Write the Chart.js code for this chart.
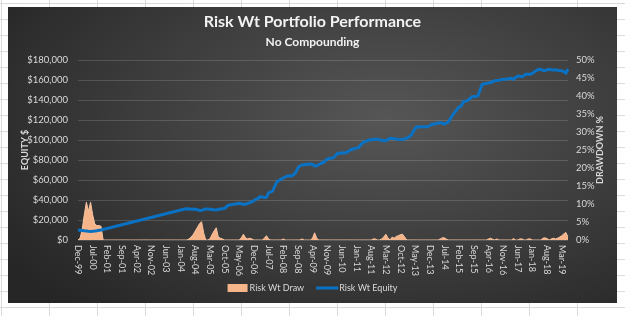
<!DOCTYPE html>
<html>
<head>
<meta charset="utf-8">
<script src="https://cdn.jsdelivr.net/npm/chart.js@4"></script>
<style>
  body {
    margin: 0;
    width: 625px;
    height: 316px;
    overflow: hidden;
    background-color: #fff;
    background-image: linear-gradient(to right, #dadada 1px, transparent 1px),
                      linear-gradient(to bottom, #dadada 1px, transparent 1px);
    background-size: 48px 16px;
    background-position: 1px 3px;
  }
  #box {
    position: absolute;
    left: 8px;
    top: 7px;
    width: 609px;
    height: 296px;
    background: radial-gradient(ellipse 75% 85% at 62% 38%, #565656 0%, #3c3c3c 55%, #262626 100%);
  }
</style>
</head>
<body>
<div id="box"><canvas id="perfChart" width="609" height="296"></canvas></div>
<script>
// months Dec-99 .. Jun-19, one point per month
const monthNames = ["Jan","Feb","Mar","Apr","May","Jun","Jul","Aug","Sep","Oct","Nov","Dec"];
const months = [];
for (let k = 0; k < 235; k++) {
  const m = (11 + k) % 12;
  const y = 1999 + Math.floor((11 + k) / 12);
  months.push(monthNames[m] + "-" + String(y % 100).padStart(2, "0"));
}

// drawdown %
const riskWtDraw = [
  0, 0.5, 3, 7, 10.5, 8, 10.5, 7, 4.5, 4, 4, 3.8,
  0, 0, 0, 0, 0, 0, 0, 0, 0, 0, 0, 0,
  0, 0, 0, 0, 0, 0, 0, 0, 0, 0, 0, 0,
  0, 0, 0, 0, 0, 0, 0, 0, 0, 0, 0, 0,
  0, 0, 0, 0, 0, 0.3, 0.8, 1.5, 2.5, 3.5, 4.5, 5.1,
  2, 0, 0, 0.3, 1.5, 2.5, 3.4, 0.8, 0.5, 0.3, 0, 0,
  0, 0, 0, 0, 0, 0, 0.6, 1.6, 0.6, 0.3, 0.5, 0.3,
  0, 0, 0, 0, 0, 0.5, 1.2, 0.3, 0, 0, 0, 0,
  0, 0, 0.3, 0, 0, 0, 0, 0, 0, 0, 0, 0.3,
  0, 0, 0, 0, 0.5, 2, 0.5, 0, 0, 0, 0, 0,
  0, 0, 0, 0, 0, 0, 0, 0, 0, 0, 0, 0,
  0, 0, 0, 0, 0, 0, 0, 0, 0, 0.3, 0.3, 0,
  0, 0.3, 0.8, 1.6, 0.6, 0, 0.8, 0.5, 1.0, 1.2, 1.5, 1.6,
  0.8, 0, 0, 0, 0, 0, 0, 0, 0, 0, 0, 0,
  0, 0, 0, 0, 0, 0.3, 0.6, 0.6, 0.2, 0, 0, 0,
  0, 0, 0, 0, 0, 0, 0, 0, 0, 0, 0, 0,
  0, 0, 0, 0, 0.3, 0.5, 0.2, 0, 0.3, 0, 0, 0,
  0, 0, 0, 0, 0.4, 0, 0, 0.3, 0.3, 0, 0, 0.3,
  0.3, 0, 0, 0, 0, 0, 0.5, 0.6, 0.4, 0, 0.3, 0.5,
  0.3, 0.5, 0.8, 1.2, 1.7, 2.1, 0.8
];

// equity $, gap between early 2001 and early 2004 is missing data
const riskWtEquity = [
  10000, 9800, 9500, 9200, 9000, 8700, 8600, 8800, 9000, 9300, 9700, 10000,
  null, null, null, null, null, null, null, null, null, null, null, null,
  null, null, null, null, null, null, null, null, null, null, null, null,
  null, null, null, null, null, null, null, null, null, null, null, null,
  null, null, null, 31000, 31200, 31000, 30800, 31000, 30700, 30200, 29800, 29500,
  30300, 31000, 31000, 30800, 30500, 30200, 30000, 30500, 31000, 31200, 31700, 33500,
  35000, 35200, 35600, 36000, 36300, 36700, 36200, 35700, 35700, 36500, 37300, 38000,
  39500, 40700, 41500, 43300, 43000, 42500, 42700, 47300, 48000, 49000, 54000, 58300,
  59500, 60700, 62000, 63000, 64000, 64200, 64000, 65500, 67300, 72000, 74000, 75000,
  75300, 75700, 75800, 76000, 75500, 74000, 74300, 75500, 76500, 77300, 79000, 81000,
  81500, 82000, 82300, 84500, 86700, 86700, 87000, 87300, 87300, 88500, 90000, 90700,
  91200, 92000, 92300, 95000, 97300, 98300, 99000, 100000, 100300, 100500, 100700, 100700,
  100200, 99800, 99300, 99300, 100500, 101700, 101500, 101200, 101000, 100700, 100500, 100700,
  101000, 101800, 103000, 104500, 108000, 111500, 113300, 113000, 113300, 113200, 113300, 113300,
  114500, 115500, 116000, 116500, 117000, 117300, 116800, 116000, 117000, 118300, 122000, 125000,
  128000, 130500, 133000, 134000, 138300, 138800, 139300, 141000, 143300, 143300, 143700, 144000,
  150000, 155500, 156200, 156500, 157000, 157300, 158300, 159300, 159500, 159800, 160300, 160700,
  160800, 161000, 161500, 161700, 160700, 162500, 164000, 163800, 163300, 164500, 166000, 165800,
  165700, 166500, 168300, 169500, 170700, 170500, 169800, 169300, 170200, 170700, 170300, 170000,
  170200, 169800, 169500, 169300, 168500, 167000, 171000
];

const labelEvery = 7;
const textColor = "#d9d9d9";
const font = "Lato, 'Open Sans', sans-serif";

// titles, rotated month labels, axis titles and legend
const overlay = {
  id: "overlay",
  afterDraw(chart) {
    const ctx = chart.ctx;
    const xs = chart.scales.x;
    const w = chart.width;
    ctx.save();
    ctx.fillStyle = "#f2f2f2";
    ctx.textAlign = "center";
    ctx.textBaseline = "middle";
    ctx.font = "bold 16px " + font;
    ctx.fillText("Risk Wt Portfolio Performance", w / 2, 15);
    ctx.font = "bold 12px " + font;
    ctx.fillText("No Compounding", w / 2, 35);

    // month labels, reading top to bottom
    ctx.fillStyle = textColor;
    ctx.font = "9px " + font;
    ctx.textAlign = "left";
    months.forEach((m, i) => {
      if (i % labelEvery !== 0) return;
      ctx.save();
      ctx.translate(xs.getPixelForValue(i), chart.chartArea.bottom + 5);
      ctx.rotate(Math.PI / 2);
      ctx.fillText(m, 0, 0);
      ctx.restore();
    });

    // axis titles
    ctx.font = "bold 9px " + font;
    ctx.textAlign = "center";
    [["EQUITY $", 17], ["DRAWDOWN %", 592]].forEach(([t, x]) => {
      ctx.save();
      ctx.translate(x, 143);
      ctx.rotate(-Math.PI / 2);
      ctx.fillText(t, 0, 0);
      ctx.restore();
    });

    // legend
    ctx.font = "9px " + font;
    ctx.textAlign = "left";
    const ds = chart.data.datasets;
    const t1 = ctx.measureText(ds[0].label).width;
    const t2 = ctx.measureText(ds[1].label).width;
    const total = 20 + 2 + t1 + 12 + 22 + 1 + t2;
    let lx = w / 2 - total / 2;
    const ly = 281;
    ctx.fillStyle = ds[0].backgroundColor;
    ctx.fillRect(lx, ly - 4, 20, 8);
    ctx.fillStyle = textColor;
    ctx.fillText(ds[0].label, lx + 22, ly);
    lx += 22 + t1 + 12;
    ctx.strokeStyle = ds[1].borderColor;
    ctx.lineWidth = 3;
    ctx.beginPath();
    ctx.moveTo(lx, ly);
    ctx.lineTo(lx + 22, ly);
    ctx.stroke();
    ctx.fillText(ds[1].label, lx + 23, ly);
    ctx.restore();
  }
};

new Chart(document.getElementById("perfChart"), {
  type: "line",
  data: {
    labels: months,
    datasets: [
      {
        label: "Risk Wt Draw",
        data: riskWtDraw,
        yAxisID: "y1",
        fill: "origin",
        backgroundColor: "#f6b48a",
        borderColor: "#f6c3a0",
        borderWidth: 1,
        pointRadius: 0,
        tension: 0,
        order: 2
      },
      {
        label: "Risk Wt Equity",
        data: riskWtEquity,
        yAxisID: "y",
        fill: false,
        borderColor: "#0a72c4",
        borderWidth: 3,
        pointRadius: 0,
        spanGaps: true,
        tension: 0,
        order: 1
      }
    ]
  },
  options: {
    responsive: false,
    animation: false,
    layout: { padding: { top: 53, left: 0, right: 0, bottom: 0 } },
    plugins: { legend: { display: false }, tooltip: { enabled: false } },
    scales: {
      x: {
        ticks: { display: false },
        grid: { display: false },
        border: { display: false },
        afterFit(s) { s.height = 63; }
      },
      y: {
        position: "left",
        min: 0,
        max: 180000,
        ticks: {
          stepSize: 20000,
          color: textColor,
          font: { family: font, size: 9.5 },
          padding: 10,
          callback: v => "$" + v.toLocaleString("en-US")
        },
        grid: { color: "rgba(255,255,255,0.15)", drawTicks: false },
        border: { display: false },
        afterFit(s) { s.width = 70; }
      },
      y1: {
        position: "right",
        min: 0,
        max: 50,
        ticks: {
          stepSize: 5,
          color: textColor,
          font: { family: font, size: 9.5 },
          padding: 8,
          callback: v => v + "%"
        },
        grid: { display: false, drawTicks: false },
        border: { display: false },
        afterFit(s) { s.width = 49; }
      }
    }
  },
  plugins: [overlay]
});
</script>
</body>
</html>
